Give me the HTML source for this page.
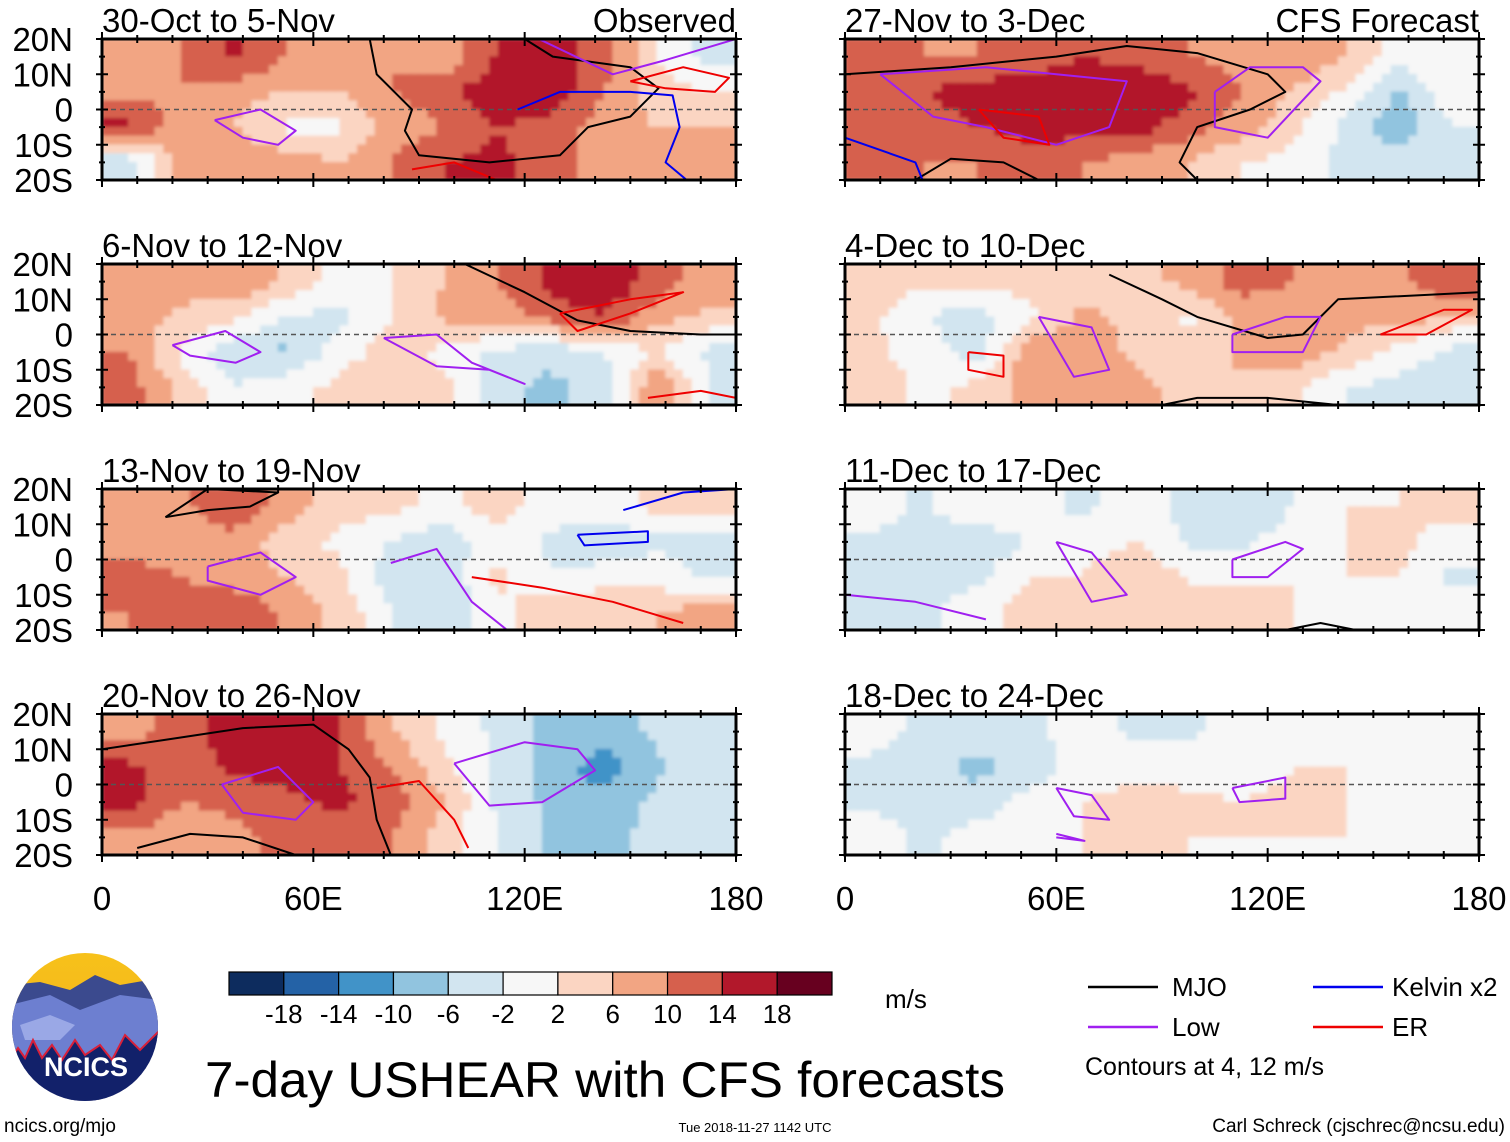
<!DOCTYPE html>
<html><head><meta charset="utf-8"><title>7-day USHEAR with CFS forecasts</title>
<style>
html,body{margin:0;padding:0;background:#fff;}
svg{display:block;font-family:"Liberation Sans",sans-serif;}
</style></head>
<body>
<svg id="chart" width="1510" height="1142" viewBox="0 0 1510 1142" xmlns="http://www.w3.org/2000/svg">
<defs>
<filter id="blur" x="0" y="0" width="100%" height="100%"><feGaussianBlur stdDeviation="1.5" edgeMode="duplicate"/></filter>
<linearGradient id="sky" x1="0" y1="0" x2="0" y2="1"><stop offset="0" stop-color="#f7c21a"/><stop offset="1" stop-color="#f3a920"/></linearGradient>
<clipPath id="logoclip"><ellipse cx="85" cy="1027" rx="73" ry="74"/></clipPath>
</defs>
<g id="panels"></g>
<g id="colorbar"></g>
<text x="885" y="1008" font-size="26">m/s</text>
<text x="605" y="1097" font-size="50" text-anchor="middle" textLength="800" lengthAdjust="spacingAndGlyphs">7-day USHEAR with CFS forecasts</text>
<g>
<g clip-path="url(#logoclip)">
<rect x="10" y="950" width="150" height="160" fill="url(#sky)"/>
<path d="M10 985 L40 982 L70 990 L95 975 L120 985 L160 978 L160 1110 L10 1110Z" fill="#3b4a8e"/>
<path d="M10 1005 L50 995 L80 1010 L120 995 L160 1000 L160 1110 L10 1110Z" fill="#6d7fd0"/>
<path d="M20 1025 L50 1015 L75 1025 L60 1040 L25 1040Z" fill="#9aa8e6"/>
<path d="M10 1060 L18 1048 L25 1058 L33 1040 L42 1058 L52 1045 L62 1060 L75 1040 L85 1055 L100 1045 L112 1060 L125 1035 L140 1050 L160 1030 L160 1110 L10 1110Z" fill="#12216a" stroke="#d8203a" stroke-width="2"/>
</g>
<text x="86" y="1076" font-size="27" font-weight="bold" fill="#fff" text-anchor="middle">NCICS</text>
</g>
<g font-size="26">
<line x1="1088" y1="987" x2="1158" y2="987" stroke="#000" stroke-width="2.5"/>
<text x="1172" y="996">MJO</text>
<line x1="1313" y1="987" x2="1383" y2="987" stroke="#0000ee" stroke-width="2.5"/>
<text x="1392" y="996">Kelvin x2</text>
<line x1="1088" y1="1027" x2="1158" y2="1027" stroke="#a020f0" stroke-width="2.5"/>
<text x="1172" y="1036">Low</text>
<line x1="1313" y1="1027" x2="1383" y2="1027" stroke="#ee0000" stroke-width="2.5"/>
<text x="1392" y="1036">ER</text>
<text x="1085" y="1075" font-size="25">Contours at 4, 12 m/s</text>
</g>
<text x="4" y="1132" font-size="19">ncics.org/mjo</text>
<text x="755" y="1132" font-size="13" text-anchor="middle">Tue 2018-11-27 1142 UTC</text>
<text x="1505" y="1132" font-size="19" text-anchor="end">Carl Schreck (cjschrec@ncsu.edu)</text>
</svg>
<script>
// ----- data -----
const lonCenters = [7.5,22.5,37.5,52.5,67.5,82.5,97.5,112.5,127.5,142.5,157.5,172.5];
const latCenters = [15,5,-5,-15];
const latTicks = ["20N","10N","0","10S","20S"];
const latTickVals = [20,10,0,-10,-20];
const lonTicks = [0,60,120,180];
const lonTickLabels = ["0","60E","120E","180"];
const cbLevels = [-18,-14,-10,-6,-2,2,6,10,14,18];
const cbColors = ["#0d2c5e","#2462a6","#4193c8","#91c4df","#d2e5f0","#f7f7f7","#fbd5c2","#f2a583","#d6604d","#b2182b","#67001f"];
const titles = ["30-Oct to 5-Nov","6-Nov to 12-Nov","13-Nov to 19-Nov","20-Nov to 26-Nov","27-Nov to 3-Dec","4-Dec to 10-Dec","11-Dec to 17-Dec","18-Dec to 24-Dec"];
const sideTitles = ["Observed","","","","CFS Forecast","","",""];

const p1 = [[8,10,15,10,8,10,8,14,16,12,2,-4],[8,10,8,6,6,10,12,18,17,10,4,2],[15,8,6,1,1,8,10,14,12,8,6,6],[-5,8,10,8,6,10,14,15,12,8,10,10]];
const p2 = [[8,8,10,5,0,2,6,10,15,18,12,8],[8,5,3,-2,-3,2,7,8,12,14,8,5],[10,1,-5,-7,0,4,1,-3,-5,-2,2,-3],[12,5,-2,1,3,6,3,-5,-7,-4,10,-2]];
const p3 = [[8,9,14,8,4,3,1,4,0,0,3,5],[8,8,8,4,1,-2,-5,1,-3,-5,-3,-3],[12,10,8,6,3,-5,-5,3,-2,0,0,-3],[10,12,14,9,5,-2,-6,1,5,6,6,8]];
const p4 = [[8,12,16,18,14,6,1,-3,-7,-8,-5,-2],[15,12,15,16,14,10,3,-3,-8,-12,-7,-3],[16,10,11,13,15,12,6,-3,-7,-9,-5,-3],[9,7,9,11,11,10,4,-2,-7,-7,-5,-2]];
const p5 = [[14,10,10,12,14,12,10,8,9,6,0,2],[14,14,16,16,18,18,15,10,6,1,-7,2],[14,12,14,16,16,16,12,8,3,-3,-9,-2],[14,10,10,12,10,8,6,2,1,-4,-4,-2]];
const p6 = [[5,3,5,3,3,5,7,12,10,8,9,14],[3,-2,-4,1,7,5,1,7,9,7,9,5],[3,0,-4,9,9,5,3,7,9,5,0,-3],[5,1,3,8,9,7,5,5,3,-2,-3,-4]];
const p7 = [[0,-3,2,0,-3,0,-3,-5,-2,2,2,4],[-3,-3,-5,-2,0,2,-3,-3,0,2,3,0],[-3,-3,-3,2,2,6,2,1,2,2,2,-3],[-3,-3,0,4,2,4,2,4,2,2,2,0]];
const p8 = [[0,-3,-3,-3,0,-3,-3,0,2,2,2,2],[-3,-5,-7,-5,0,0,0,0,2,2,2,0],[-3,-3,-5,0,2,4,3,2,3,2,2,0],[0,-3,0,0,2,4,2,2,2,2,0,0]];
const panelData = [p1,p2,p3,p4,p5,p6,p7,p8];

// contours: [lon,lat] points
const c1 = [{c:"#000",p:[[76,20],[78,10],[84,4],[88,0],[86,-6],[90,-13],[110,-15],[130,-13],[138,-5],[150,-2],[158,6],[150,12],[128,15],[120,20]]},
 {c:"#0000ee",p:[[118,0],[130,5],[150,5],[162,4],[164,-5],[160,-15],[166,-20]]},
 {c:"#a020f0",p:[[32,-3],[45,0],[55,-6],[50,-10],[40,-8],[32,-3]]},
 {c:"#a020f0",p:[[124,20],[145,10],[160,14],[180,20]]},
 {c:"#ee0000",p:[[150,8],[165,12],[178,9],[174,5],[160,6],[150,8]]},
 {c:"#ee0000",p:[[88,-17],[100,-15],[112,-20]]}];
const c2 = [{c:"#000",p:[[103,20],[120,12],[135,4],[150,1],[170,0],[180,0]]},
 {c:"#a020f0",p:[[20,-3],[35,1],[45,-5],[38,-8],[25,-6],[20,-3]]},
 {c:"#a020f0",p:[[80,-1],[95,0],[105,-8],[120,-14],[110,-10],[95,-9],[80,-1]]},
 {c:"#ee0000",p:[[130,6],[150,10],[165,12],[150,6],[135,1],[130,6]]},
 {c:"#ee0000",p:[[155,-18],[170,-16],[180,-18]]}];
const c3 = [{c:"#000",p:[[18,12],[30,20],[50,19],[42,15],[30,14],[18,12]]},
 {c:"#0000ee",p:[[135,7],[155,8],[155,5],[137,4],[135,7]]},
 {c:"#0000ee",p:[[148,14],[165,19],[180,20]]},
 {c:"#a020f0",p:[[30,-2],[45,2],[55,-5],[45,-10],[30,-6],[30,-2]]},
 {c:"#a020f0",p:[[82,-1],[95,3],[105,-12],[115,-20]]},
 {c:"#ee0000",p:[[105,-5],[125,-8],[145,-12],[165,-18]]}];
const c4 = [{c:"#000",p:[[0,10],[20,13],[40,16],[60,17],[70,10],[76,2],[78,-10],[82,-20]]},
 {c:"#000",p:[[10,-18],[25,-14],[40,-15],[55,-20]]},
 {c:"#a020f0",p:[[34,0],[50,5],[60,-5],[55,-10],[40,-8],[34,0]]},
 {c:"#a020f0",p:[[100,6],[120,12],[135,10],[140,4],[125,-5],[110,-6],[100,6]]},
 {c:"#ee0000",p:[[78,-1],[90,1],[100,-10],[104,-18]]}];
const c5 = [{c:"#000",p:[[0,10],[30,12],[60,15],[80,18],[100,16],[120,10],[125,5],[115,0],[100,-5],[95,-15],[100,-20]]},
 {c:"#000",p:[[20,-20],[30,-14],[45,-15],[55,-20]]},
 {c:"#a020f0",p:[[10,10],[40,12],[60,10],[80,8],[75,-5],[60,-10],[40,-5],[25,-2],[10,10]]},
 {c:"#a020f0",p:[[105,5],[115,12],[130,12],[135,8],[120,-8],[105,-5],[105,5]]},
 {c:"#ee0000",p:[[38,0],[55,-2],[58,-10],[45,-8],[38,0]]},
 {c:"#0000ee",p:[[0,-8],[20,-15],[22,-20]]}];
const c6 = [{c:"#000",p:[[75,17],[90,10],[100,5],[120,-1],[130,0],[140,10],[180,12]]},
 {c:"#000",p:[[90,-20],[100,-18],[120,-18],[140,-20]]},
 {c:"#a020f0",p:[[55,5],[70,2],[75,-10],[65,-12],[55,5]]},
 {c:"#a020f0",p:[[110,0],[125,5],[135,5],[130,-5],[110,-5],[110,0]]},
 {c:"#ee0000",p:[[35,-5],[45,-6],[45,-12],[35,-10],[35,-5]]},
 {c:"#ee0000",p:[[152,0],[170,7],[178,7],[165,0],[152,0]]}];
const c7 = [{c:"#a020f0",p:[[60,5],[70,2],[80,-10],[70,-12],[60,5]]},
 {c:"#a020f0",p:[[110,0],[125,5],[130,3],[120,-5],[110,-5],[110,0]]},
 {c:"#a020f0",p:[[0,-10],[20,-12],[40,-17]]},
 {c:"#000",p:[[125,-20],[135,-18],[145,-20]]}];
const c8 = [{c:"#a020f0",p:[[60,-1],[70,-3],[75,-10],[65,-9],[60,-1]]},
 {c:"#a020f0",p:[[110,-1],[125,2],[125,-4],[112,-5],[110,-1]]},
 {c:"#a020f0",p:[[60,-14],[68,-16],[60,-15]]}];
const panelContours = [c1,c2,c3,c4,c5,c6,c7,c8];

// ----- layout -----
const colX = [102,845], rowY = [39,264,489,714], PW = 634, PH = 141;
const NS = "http://www.w3.org/2000/svg";
function mk(tag, attrs, parent){const e=document.createElementNS(NS,tag);for(const k in attrs)e.setAttribute(k,attrs[k]);parent.appendChild(e);return e;}
function colorOf(v){let i=0;while(i<cbLevels.length&&v>cbLevels[i])i++;return cbColors[i];}
function locate(arr, v){
  const asc = arr[1]>arr[0];
  const n = arr.length;
  let f;
  if(asc){ f = (v-arr[0])/(arr[1]-arr[0]); } else { f = (arr[0]-v)/(arr[0]-arr[1]); }
  return Math.max(0, Math.min(n-1, f));
}
function sample(data, lon, lat){
  const fx = locate(lonCenters, lon), fy = locate(latCenters, lat);
  const i0 = Math.floor(fx), j0 = Math.floor(fy);
  const i1 = Math.min(i0+1, lonCenters.length-1), j1 = Math.min(j0+1, latCenters.length-1);
  const tx = fx-i0, ty = fy-j0;
  const a = data[j0][i0]*(1-tx)+data[j0][i1]*tx;
  const b = data[j1][i0]*(1-tx)+data[j1][i1]*tx;
  return a*(1-ty)+b*ty;
}
const root = document.getElementById("panels");
const STEP = 2.5;

panelData.forEach((data,pi)=>{
  const col = pi<4?0:1, row = pi%4;
  const x0 = colX[col], y0 = rowY[row];
  const xs = lon => x0 + lon/180*PW;
  const ys = lat => y0 + (20-lat)/40*PH;
  const g = mk("g",{},root);
  
  
  const cp = mk("clipPath",{id:"cp"+pi},g);
  mk("rect",{x:x0,y:y0,width:PW,height:PH},cp);
  const clipG = mk("g",{"clip-path":"url(#cp"+pi+")"},g);
  const heat = mk("g",{filter:"url(#blur)"},clipG);
  
  
  for(let lat=20; lat>-20; lat-=STEP){
    for(let lon=0; lon<180; lon+=STEP){
      const v = sample(data, lon+STEP/2, lat-STEP/2);
      const cell = mk("rect",{x:xs(lon)-0.3,y:ys(lat)-0.3,width:xs(lon+STEP)-xs(lon)+0.6,height:ys(lat-STEP)-ys(lat)+0.6,fill:colorOf(v)},heat);
      
      
    }
  }
  const eq = mk("line",{x1:x0,y1:ys(0),x2:x0+PW,y2:ys(0),stroke:"#555","stroke-width":1.5,"stroke-dasharray":"5,4"},clipG);
  
  
  panelContours[pi].forEach(ct=>{
    const d = ct.p.map((pt,k)=>(k?"L":"M")+xs(pt[0]).toFixed(1)+" "+ys(pt[1]).toFixed(1)).join(" ");
    const path = mk("path",{d:d,fill:"none",stroke:ct.c,"stroke-width":2,"stroke-linejoin":"round"},clipG);
    
    
  });
  const frame = mk("rect",{x:x0,y:y0,width:PW,height:PH,fill:"none",stroke:"#000","stroke-width":3},g);
  
  
  for(let lon=0;lon<=180;lon+=10){
    const major = lon%60===0, L = major?7:4;
    mk("line",{x1:xs(lon),y1:y0-L,x2:xs(lon),y2:y0+L,stroke:"#000","stroke-width":2},g);
    mk("line",{x1:xs(lon),y1:y0+PH-L,x2:xs(lon),y2:y0+PH+L,stroke:"#000","stroke-width":2},g);
  }
  for(let lat=-20;lat<=20;lat+=5){
    const L = lat%10===0?6:3;
    mk("line",{x1:x0-L,y1:ys(lat),x2:x0+L,y2:ys(lat),stroke:"#000","stroke-width":2},g);
    mk("line",{x1:x0+PW-L,y1:ys(lat),x2:x0+PW+L,y2:ys(lat),stroke:"#000","stroke-width":2},g);
  }
  const t = mk("text",{x:x0,y:y0-7,"font-size":33},g);
  t.textContent = titles[pi];
  
  
  if(sideTitles[pi]){
    const s = mk("text",{x:x0+PW,y:y0-7,"font-size":33,"text-anchor":"end"},g);
    s.textContent = sideTitles[pi];
    
    
  }
  if(col===0){
    latTicks.forEach((lab,k)=>{
      const tt = mk("text",{x:73,y:ys(latTickVals[k])+12,"font-size":33,"text-anchor":"end"},g);
      tt.textContent = lab;
      
      
    });
  }
  if(row===3){
    lonTicks.forEach((lon,k)=>{
      const tt = mk("text",{x:xs(lon),y:910,"font-size":33,"text-anchor":"middle"},g);
      tt.textContent = lonTickLabels[k];
      
      
    });
  }
});

// colorbar
const cb = document.getElementById("colorbar");
const cbX = 229, cbY = 972, cbW = 603/11, cbH = 23;
cbColors.forEach((c,i)=>{
  const r = mk("rect",{x:cbX+i*cbW,y:cbY,width:cbW,height:cbH,fill:c,stroke:"#000","stroke-width":1.2},cb);
  
  
});
cbLevels.forEach((lv,i)=>{
  const t = mk("text",{x:cbX+(i+1)*cbW,y:1023,"font-size":26,"text-anchor":"middle"},cb);
  t.textContent = String(lv);
  
  
});
</script>
</body></html>
